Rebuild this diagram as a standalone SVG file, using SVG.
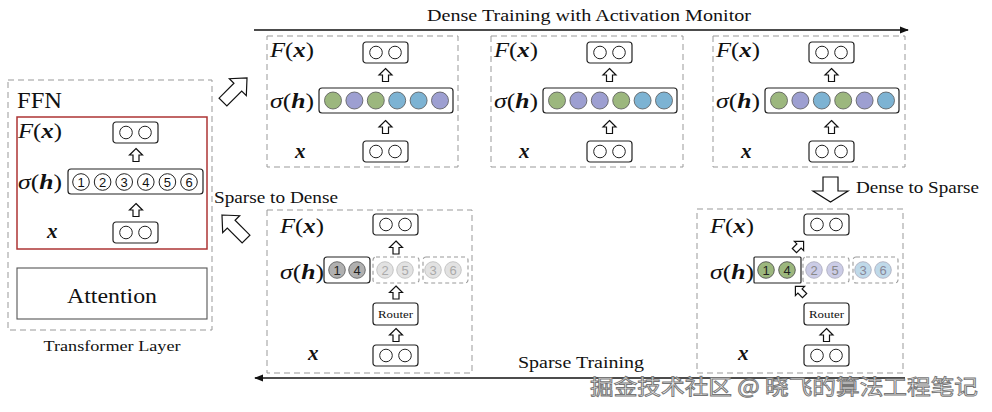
<svg xmlns="http://www.w3.org/2000/svg" width="992" height="412" viewBox="0 0 992 412">
<style>
.serif{font-family:"Liberation Serif","DejaVu Serif",serif;fill:#111}
.m{font-family:"Liberation Serif","DejaVu Serif",serif;font-size:21px;fill:#111}
.i{font-style:italic}
.bi{font-style:italic;font-weight:bold}
.panel{fill:none;stroke:#999;stroke-width:1;stroke-dasharray:6,4}
.box{fill:#fff;stroke:#222;stroke-width:1.2}
.dbox{fill:none;stroke:#999;stroke-width:1.1;stroke-dasharray:4,3}
.oc{fill:none;stroke:#222;stroke-width:1}
.ar{fill:#fff;stroke:#111;stroke-width:1.2;stroke-linejoin:miter}
.g{fill:#9cb77e;stroke:#555;stroke-width:0.8}
.p{fill:#9d9fd1;stroke:#555;stroke-width:0.8}
.b{fill:#7db3d3;stroke:#555;stroke-width:0.8}
.num{font-family:"Liberation Sans","DejaVu Sans",sans-serif;font-size:13px;text-anchor:middle}
.line{stroke:#111;stroke-width:1.3;fill:none}
</style>
<defs>
<path id="ua" class="ar" d="M0,-6.5 L6.5,0 L3,0 L3,6.5 L-3,6.5 L-3,0 L-6.5,0 Z"/>
<path id="ba" class="ar" d="M0,-17 L12,-4 L5.5,-4 L5.5,17 L-5.5,17 L-5.5,-4 L-12,-4 Z"/>
<marker id="ah" viewBox="0 0 10 10" refX="9" refY="5" markerWidth="9" markerHeight="9" markerUnits="userSpaceOnUse" orient="auto">
<path d="M0,1 L10,5 L0,9 Z" fill="#111"/>
</marker>
<g id="oo"><rect class="box" x="0" y="0" width="45" height="21" rx="3"/><circle class="oc" cx="13" cy="10.5" r="6.3"/><circle class="oc" cx="32" cy="10.5" r="6.3"/></g>
</defs>

<!-- Transformer layer -->
<g id="transformer-layer">
<rect x="8" y="80" width="204" height="250" class="panel"/>
<text class="serif" x="17" y="108" font-size="23" textLength="45" lengthAdjust="spacingAndGlyphs">FFN</text>
<text class="serif" x="112" y="351" font-size="15" text-anchor="middle" textLength="137" lengthAdjust="spacingAndGlyphs">Transformer Layer</text>
</g>
<g id="ffn">
<rect x="17" y="117" width="190" height="132" fill="none" stroke="#ad3434" stroke-width="1.5"/>
<text class="m" x="18" y="138" textLength="44" lengthAdjust="spacingAndGlyphs"><tspan class="i">F</tspan>(<tspan class="bi">x</tspan>)</text>
<use href="#oo" x="113" y="122"/>
<use href="#ua" x="136" y="155"/>
<text class="m" x="18" y="189" textLength="44" lengthAdjust="spacingAndGlyphs"><tspan class="i">σ</tspan>(<tspan class="bi">h</tspan>)</text>
<rect class="box" x="68" y="169" width="135" height="25" rx="3"/>
<g class="oc">
<circle cx="81" cy="182" r="8.3"/><circle cx="102.6" cy="182" r="8.3"/><circle cx="124.2" cy="182" r="8.3"/><circle cx="145.8" cy="182" r="8.3"/><circle cx="167.4" cy="182" r="8.3"/><circle cx="189" cy="182" r="8.3"/>
</g>
<g class="num" fill="#111">
<text x="81" y="186.5">1</text><text x="102.6" y="186.5">2</text><text x="124.2" y="186.5">3</text><text x="145.8" y="186.5">4</text><text x="167.4" y="186.5">5</text><text x="189" y="186.5">6</text>
</g>
<use href="#ua" x="136" y="210"/>
<text class="m" x="47" y="238"><tspan class="bi">x</tspan></text>
<use href="#oo" x="113" y="222"/>
</g>
<g id="attention">
<rect x="17" y="268" width="190" height="51" fill="#fff" stroke="#555" stroke-width="1.1"/>
<text class="serif" x="112" y="303" font-size="21" text-anchor="middle" textLength="90" lengthAdjust="spacingAndGlyphs">Attention</text>
</g>

<!-- Top panels -->
<g id="dense-1">
<rect class="panel" x="267" y="36" width="191" height="131"/>
<text class="m" x="270" y="57" textLength="44" lengthAdjust="spacingAndGlyphs"><tspan class="i">F</tspan>(<tspan class="bi">x</tspan>)</text>
<use href="#oo" x="363" y="42"/>
<use href="#ua" x="385.5" y="75"/>
<text class="m" x="270" y="108" textLength="44" lengthAdjust="spacingAndGlyphs"><tspan class="i">σ</tspan>(<tspan class="bi">h</tspan>)</text>
<rect class="box" x="319" y="88" width="134" height="25" rx="3"/>
<circle class="g" cx="333" cy="100.5" r="8.5"/><circle class="p" cx="354.4" cy="100.5" r="8.5"/><circle class="g" cx="375.8" cy="100.5" r="8.5"/><circle class="b" cx="397.2" cy="100.5" r="8.5"/><circle class="b" cx="418.6" cy="100.5" r="8.5"/><circle class="p" cx="440" cy="100.5" r="8.5"/>
<use href="#ua" x="385.5" y="127"/>
<text class="m" x="295" y="158"><tspan class="bi">x</tspan></text>
<use href="#oo" x="363" y="141"/>
</g>
<g id="dense-2">
<rect class="panel" x="491" y="36" width="192" height="131"/>
<text class="m" x="494" y="57" textLength="44" lengthAdjust="spacingAndGlyphs"><tspan class="i">F</tspan>(<tspan class="bi">x</tspan>)</text>
<use href="#oo" x="587" y="42"/>
<use href="#ua" x="609.5" y="75"/>
<text class="m" x="494" y="108" textLength="44" lengthAdjust="spacingAndGlyphs"><tspan class="i">σ</tspan>(<tspan class="bi">h</tspan>)</text>
<rect class="box" x="543" y="88" width="134" height="25" rx="3"/>
<circle class="g" cx="557" cy="100.5" r="8.5"/><circle class="p" cx="578.4" cy="100.5" r="8.5"/><circle class="p" cx="599.8" cy="100.5" r="8.5"/><circle class="g" cx="621.2" cy="100.5" r="8.5"/><circle class="b" cx="642.6" cy="100.5" r="8.5"/><circle class="b" cx="664" cy="100.5" r="8.5"/>
<use href="#ua" x="609.5" y="127"/>
<text class="m" x="519" y="158"><tspan class="bi">x</tspan></text>
<use href="#oo" x="587" y="141"/>
</g>
<g id="dense-3">
<rect class="panel" x="713" y="36" width="192" height="131"/>
<text class="m" x="716" y="57" textLength="44" lengthAdjust="spacingAndGlyphs"><tspan class="i">F</tspan>(<tspan class="bi">x</tspan>)</text>
<use href="#oo" x="809" y="42"/>
<use href="#ua" x="831.5" y="75"/>
<text class="m" x="716" y="108" textLength="44" lengthAdjust="spacingAndGlyphs"><tspan class="i">σ</tspan>(<tspan class="bi">h</tspan>)</text>
<rect class="box" x="765" y="88" width="134" height="25" rx="3"/>
<circle class="g" cx="779" cy="100.5" r="8.5"/><circle class="p" cx="800.4" cy="100.5" r="8.5"/><circle class="b" cx="821.8" cy="100.5" r="8.5"/><circle class="g" cx="843.2" cy="100.5" r="8.5"/><circle class="p" cx="864.6" cy="100.5" r="8.5"/><circle class="b" cx="886" cy="100.5" r="8.5"/>
<use href="#ua" x="831.5" y="127"/>
<text class="m" x="741" y="158"><tspan class="bi">x</tspan></text>
<use href="#oo" x="809" y="141"/>
</g>

<!-- Bottom-left panel (sparse to dense) -->
<g id="sparse-left">
<rect class="panel" x="267" y="210" width="205" height="163"/>
<text class="m" x="280" y="233" textLength="44" lengthAdjust="spacingAndGlyphs"><tspan class="i">F</tspan>(<tspan class="bi">x</tspan>)</text>
<use href="#oo" x="373" y="214"/>
<use href="#ua" x="396" y="247.5"/>
<text class="m" x="280" y="279" textLength="44" lengthAdjust="spacingAndGlyphs"><tspan class="i">σ</tspan>(<tspan class="bi">h</tspan>)</text>
<rect class="box" x="324" y="257" width="46" height="26" rx="3"/>
<rect class="dbox" x="373" y="257" width="46" height="26" rx="3"/>
<rect class="dbox" x="423" y="257" width="45" height="26" rx="3"/>
<g fill="#b0b0b0" stroke="#555" stroke-width="0.8"><circle cx="337" cy="270" r="8.3"/><circle cx="357" cy="270" r="8.3"/></g>
<g fill="#e2e2e2" stroke="#bbb" stroke-width="0.8"><circle cx="385" cy="270" r="8.3"/><circle cx="405" cy="270" r="8.3"/><circle cx="433" cy="270" r="8.3"/><circle cx="453" cy="270" r="8.3"/></g>
<g class="num"><text x="337" y="274.5" fill="#222">1</text><text x="357" y="274.5" fill="#222">4</text><text x="385" y="274.5" fill="#aaa">2</text><text x="405" y="274.5" fill="#aaa">5</text><text x="433" y="274.5" fill="#aaa">3</text><text x="453" y="274.5" fill="#aaa">6</text></g>
<use href="#ua" x="396" y="292.5"/>
<rect class="box" x="373" y="303" width="45" height="22" rx="3"/>
<text class="serif" x="395.5" y="318" font-size="11" text-anchor="middle" textLength="35" lengthAdjust="spacingAndGlyphs">Router</text>
<use href="#ua" x="396" y="335"/>
<text class="m" x="308" y="360"><tspan class="bi">x</tspan></text>
<use href="#oo" x="373" y="345"/>
</g>

<!-- Bottom-right panel (dense to sparse) -->
<g id="sparse-right">
<rect class="panel" x="697" y="209" width="206" height="164"/>
<text class="m" x="710" y="233" textLength="44" lengthAdjust="spacingAndGlyphs"><tspan class="i">F</tspan>(<tspan class="bi">x</tspan>)</text>
<use href="#oo" x="804" y="214"/>
<use href="#ua" transform="translate(799,246) rotate(45)"/>
<text class="m" x="710" y="279" textLength="44" lengthAdjust="spacingAndGlyphs"><tspan class="i">σ</tspan>(<tspan class="bi">h</tspan>)</text>
<rect class="box" x="754" y="257" width="47" height="26" rx="1"/>
<rect class="dbox" x="803" y="257" width="46" height="26" rx="3"/>
<rect class="dbox" x="853" y="257" width="45" height="26" rx="3"/>
<g fill="#9cb77e" stroke="#444" stroke-width="0.8"><circle cx="766" cy="270" r="8.3"/><circle cx="787" cy="270" r="8.3"/></g>
<g fill="#cbcce6" stroke="#aab" stroke-width="0.8"><circle cx="814" cy="270" r="8.3"/><circle cx="835" cy="270" r="8.3"/></g>
<g fill="#bfd9e9" stroke="#aab" stroke-width="0.8"><circle cx="863" cy="270" r="8.3"/><circle cx="883" cy="270" r="8.3"/></g>
<g class="num"><text x="766" y="274.5" fill="#222">1</text><text x="787" y="274.5" fill="#222">4</text><text x="814" y="274.5" fill="#888">2</text><text x="835" y="274.5" fill="#888">5</text><text x="863" y="274.5" fill="#889">3</text><text x="883" y="274.5" fill="#889">6</text></g>
<use href="#ua" transform="translate(800,291) rotate(-45)"/>
<rect class="box" x="804" y="303" width="45" height="22" rx="3"/>
<text class="serif" x="826.5" y="318" font-size="11" text-anchor="middle" textLength="35" lengthAdjust="spacingAndGlyphs">Router</text>
<use href="#ua" x="826.5" y="335"/>
<text class="m" x="738" y="360"><tspan class="bi">x</tspan></text>
<use href="#oo" x="804" y="345"/>
</g>

<!-- Connectors -->
<g id="connectors">
<line class="line" x1="254" y1="30" x2="908" y2="30" marker-end="url(#ah)"/>
<text class="serif" x="589" y="21" font-size="17" text-anchor="middle" textLength="324" lengthAdjust="spacingAndGlyphs">Dense Training with Activation Monitor</text>
<line class="line" x1="905" y1="378" x2="255" y2="378" marker-end="url(#ah)"/>
<text class="serif" x="581" y="368" font-size="17" text-anchor="middle" textLength="126" lengthAdjust="spacingAndGlyphs">Sparse Training</text>
<use href="#ba" transform="translate(235,90) rotate(45)"/>
<use href="#ba" transform="translate(234,227) rotate(-45)"/>
<text class="serif" x="214" y="203" font-size="16" textLength="124" lengthAdjust="spacingAndGlyphs">Sparse to Dense</text>
<path class="ar" d="M823,177 L838,177 L838,191 L848,191 L830.5,202 L813,191 L823,191 Z"/>
<text class="serif" x="856" y="193" font-size="16" textLength="123" lengthAdjust="spacingAndGlyphs">Dense to Sparse</text>
</g>

<text x="590" y="394" font-family="'Noto Sans CJK SC',sans-serif" font-size="21" fill="#f4f4f4" stroke="#777" stroke-width="0.9" textLength="388" lengthAdjust="spacingAndGlyphs">掘金技术社区 @ 晓飞的算法工程笔记</text>
</svg>
